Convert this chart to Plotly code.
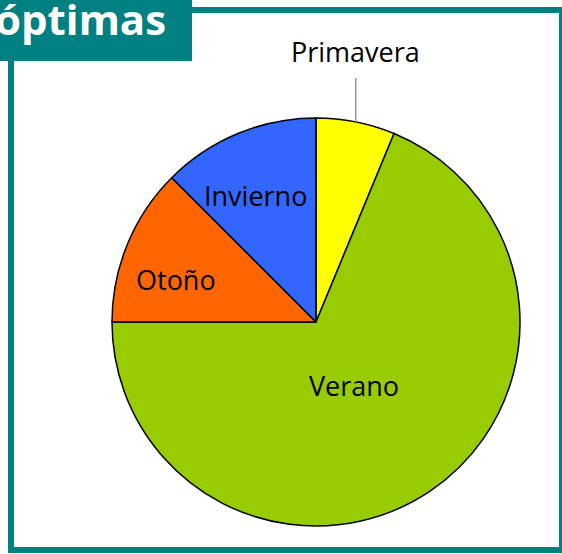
import numpy as np
import plotly.graph_objects as go

# Seasons and counts (share of 16)
seasons = ["Primavera", "Verano", "Otoño", "Invierno"]
counts = [1, 11, 2, 2]
colors = ["#FFFF00", "#99CC00", "#FF6600", "#3366FF"]
title_text = "óptimas"

W, H = 562, 554
teal = "#008080"
font = "Open Sans"

# pie box in pixels
cx, cy, R = 316, 322, 204
# how far along the bisector each label sits (fraction of radius) + pixel nudge
label_r = [None, 0.36, 0.72, 0.72]
label_nudge = [(0, 0), (-3, -2), (-4, -14), (-4, -9)]

fig = go.Figure()

fig.add_trace(go.Pie(
    labels=seasons,
    values=counts,
    sort=False,
    direction="clockwise",
    rotation=0,
    marker=dict(colors=colors, line=dict(color="black", width=1.5)),
    textinfo="none",
    domain=dict(x=[(cx - R) / W, (cx + R) / W], y=[1 - (cy + R) / H, 1 - (cy - R) / H]),
    showlegend=False,
    hoverinfo="label+value",
))

# slice labels placed on each slice's bisector
total = sum(counts)
start = 0.0
for name, v, fr, (nx, ny) in zip(seasons, counts, label_r, label_nudge):
    mid = np.deg2rad((start + v / 2) / total * 360)
    start += v
    if fr is None:
        # outside label with a leader line
        px = cx + R * np.sin(mid)
        py = cy - R * np.cos(mid)
        fig.add_annotation(text=name, xref="paper", yref="paper",
                           x=px / W, y=1 - py / H, ax=0, ay=-70,
                           showarrow=True, arrowhead=0, arrowwidth=1.2,
                           arrowcolor="#808080", startstandoff=6,
                           font=dict(family=font, size=27, color="black"))
    else:
        px = cx + fr * R * np.sin(mid)
        py = cy - fr * R * np.cos(mid)
        fig.add_annotation(text=name, xref="paper", yref="paper",
                           x=px / W, y=1 - py / H, xshift=nx, yshift=ny,
                           xanchor="center", yanchor="middle", showarrow=False,
                           font=dict(family=font, size=27, color="black"))

# teal frame and the cropped title box
fig.add_shape(type="rect", xref="paper", yref="paper",
              x0=11 / W, x1=562 / W, y0=1 - 550 / H, y1=1 - 10 / H,
              line=dict(color=teal, width=6), fillcolor="rgba(0,0,0,0)")
fig.add_shape(type="rect", xref="paper", yref="paper",
              x0=0, x1=192 / W, y0=1 - 61 / H, y1=1,
              line=dict(width=0), fillcolor=teal)
fig.add_annotation(text=title_text, xref="paper", yref="paper",
                   x=168 / W, y=1 - 18 / H, xanchor="right", yanchor="middle",
                   showarrow=False,
                   font=dict(family=font, size=42, color="white", weight="bold"))

fig.update_layout(
    width=W, height=H,
    margin=dict(l=0, r=0, t=0, b=0),
    paper_bgcolor="white",
    plot_bgcolor="white",
)

fig.write_html("out.html", config={"displayModeBar": False},
               post_script="document.body.style.margin='0px';")
